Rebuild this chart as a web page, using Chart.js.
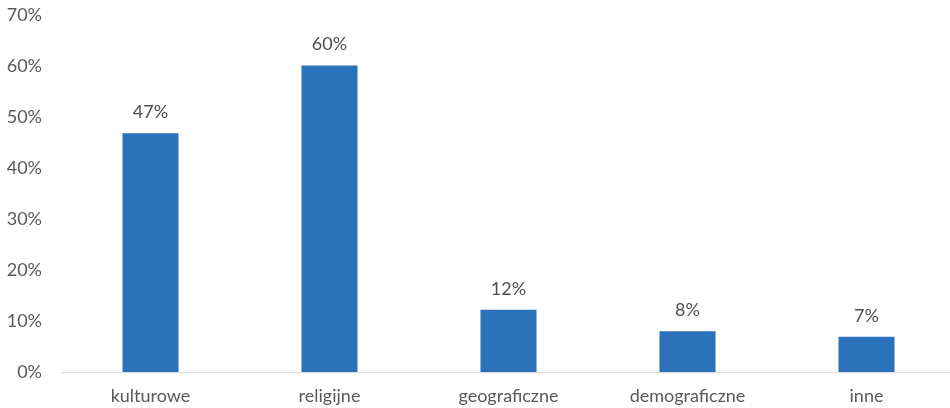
<!DOCTYPE html>
<html>
<head>
<meta charset="utf-8">
<script src="https://cdn.jsdelivr.net/npm/chart.js@4"></script>
<style>
  html, body { margin: 0; padding: 0; background: #fff; overflow: hidden; }
  #wrap { width: 956px; height: 408px; }
</style>
</head>
<body>
<div id="wrap"><canvas id="chart"></canvas></div>
<script>
// categories and values (percent)
const categories = ["kulturowe", "religijne", "geograficzne", "demograficzne", "inne"];
const values = [46.8, 60.1, 12.2, 8.0, 6.9];
const valueLabels = ["47%", "60%", "12%", "8%", "7%"];

//draws the value above each bar
const barLabels = {
  id: "barLabels",
  afterDatasetsDraw(chart) {
    const ctx = chart.ctx;
    const meta = chart.getDatasetMeta(0);
    ctx.save();
    ctx.font = "18px Lato, 'Open Sans', sans-serif";
    ctx.fillStyle = "#505050";
    ctx.textAlign = "center";
    ctx.textBaseline = "middle";
    meta.data.forEach((bar, i) => {
      ctx.fillText(valueLabels[i], bar.x, bar.y - 21);
    });
    ctx.restore();
  }
};

new Chart(document.getElementById("chart"), {
  type: "bar",
  plugins: [barLabels],
  data: {
    labels: categories,
    datasets: [{
      data: values,
      backgroundColor: "#2A71B9",
      categoryPercentage: 1,
      barPercentage: 0.313
    }]
  },
  options: {
    responsive: true,
    maintainAspectRatio: false,
    animation: false,
    layout: { padding: { top: 0, left: 0, right: 0, bottom: 0 } },
    plugins: { legend: { display: false }, tooltip: { enabled: false } },
    scales: {
      y: {
        min: 0,
        max: 70,
        ticks: {
          stepSize: 10,
          padding: 19,
          color: "#595959",
          font: { family: "Lato, 'Open Sans', sans-serif", size: 18 },
          callback: (v) => v + "%"
        },
        grid: { display: false, drawTicks: false },
        border: { display: false },
        afterFit: (s) => { s.width = 61; s.paddingTop = 15; }
      },
      x: {
        ticks: {
          padding: 13,
          color: "#595959",
          font: { family: "Lato, 'Open Sans', sans-serif", size: 18 }
        },
        grid: { display: false, drawTicks: false },
        border: { display: true, color: "#d9d9d9", width: 1 },
        afterFit: (s) => { s.height = 36; }
      }
    }
  }
});
</script>
</body>
</html>
